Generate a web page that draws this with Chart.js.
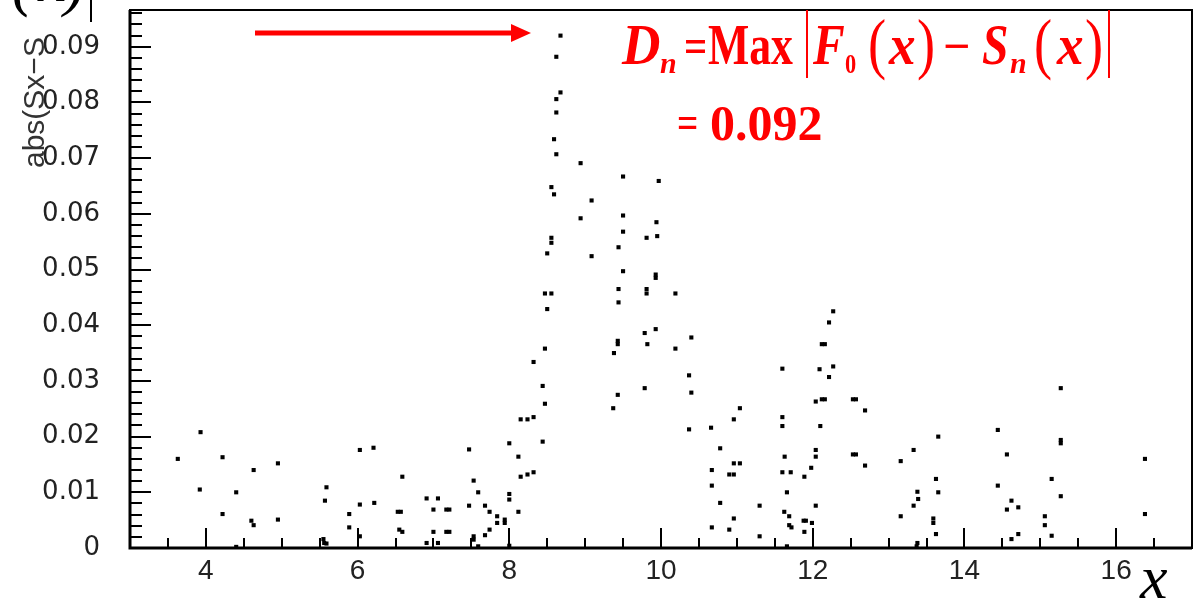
<!DOCTYPE html>
<html>
<head>
<meta charset="utf-8">
<script src="https://cdn.jsdelivr.net/npm/chart.js@4.4.0/dist/chart.umd.min.js"></script>
<style>
  html, body { margin: 0; padding: 0; background: #fff; }
  #wrap { width: 1199px; height: 610px; }
</style>
</head>
<body>
<div id="wrap"><canvas id="ksChart" width="1199" height="610"></canvas></div>
<script>
// tick labels
const xTicks = [4, 6, 8, 10, 12, 14, 16];
const yTicks = [0, 0.01, 0.02, 0.03, 0.04, 0.05, 0.06, 0.07, 0.08, 0.09];

// |F0(x) - Sn(x)| sampled at each observation
const xs = [
  3.63, 3.93, 3.92, 4.22, 4.22, 4.40, 4.40, 4.63, 4.60, 4.63, 4.95, 4.95,
  5.59, 5.57, 5.55, 5.56, 5.59, 5.89, 5.89, 6.03, 6.03, 6.03, 6.21, 6.22,
  6.59, 6.53, 6.57, 6.55, 6.59, 6.91, 7.06, 7.00, 7.17, 7.21, 7.00, 7.17,
  7.21, 6.91, 7.06, 7.47, 7.47, 7.53, 7.53, 7.53, 7.59, 7.59, 7.68, 7.68,
  7.74, 7.74, 7.84, 7.84, 7.94, 7.94, 8.00, 8.00, 8.00, 8.00, 8.12, 8.12,
  8.15, 8.15, 8.24, 8.24, 8.32, 8.32, 8.32, 8.44, 8.44, 8.47, 8.47, 8.47,
  8.50, 8.50, 8.555, 8.555, 8.555, 8.555, 8.59, 8.59, 8.62, 8.62, 8.62, 8.62,
  8.675, 8.675, 8.94, 8.94, 9.085, 9.085, 9.37, 9.38, 9.43, 9.43, 9.43, 9.44,
  9.44, 9.44, 9.50, 9.50, 9.50, 9.50, 9.785, 9.785, 9.81, 9.81, 9.81, 9.82,
  9.93, 9.93, 9.93, 9.94, 9.95, 9.97, 10.19, 10.19, 10.37, 10.37, 10.40, 10.40,
  10.66, 10.67, 10.67, 10.67, 10.78, 10.78, 10.90, 10.90, 10.96, 10.96, 10.96, 10.96,
  11.04, 11.04, 11.30, 11.30, 11.60, 11.60, 11.60, 11.60, 11.63, 11.625, 11.66, 11.66,
  11.69, 11.69, 11.71, 11.72, 11.88, 11.91, 11.89, 11.89, 11.98, 11.99, 12.04, 12.04,
  12.04, 12.04, 12.09, 12.10, 12.12, 12.16, 12.12, 12.16, 12.215, 12.215, 12.27, 12.27,
  12.53, 12.57, 12.53, 12.57, 12.69, 12.69, 13.16, 13.16, 13.33, 13.33, 13.38, 13.39,
  13.38, 13.37, 13.59, 13.59, 13.625, 13.625, 13.655, 13.655, 14.44, 14.44, 14.56, 14.56,
  14.62, 14.62, 14.71, 14.71, 15.06, 15.06, 15.15, 15.15, 15.27, 15.27, 15.27, 15.27,
  16.38, 16.38
];
const ys = [
  0.0160, 0.0208, 0.0105, 0.0163, 0.0061, 0.0100, 0.0002, 0.0140, 0.0049, 0.0041, 0.0152, 0.0051,
  0.0109, 0.0085, 0.0016, 0.0009, 0.0008, 0.0061, 0.0037, 0.0176, 0.0078, 0.0021, 0.0180, 0.0081,
  0.0128, 0.0065, 0.0065, 0.0033, 0.0029, 0.0089, 0.0089, 0.0069, 0.0069, 0.0069, 0.0029, 0.0029,
  0.0029, 0.0009, 0.0009, 0.0177, 0.0076, 0.0121, 0.0021, 0.0015, 0.0100, 0.0003, 0.0076, 0.0023,
  0.0065, 0.0033, 0.0057, 0.0045, 0.0051, 0.0045, 0.0188, 0.0097, 0.0087, 0.0004, 0.0164, 0.0065,
  0.0231, 0.0128, 0.0231, 0.0132, 0.0235, 0.0136, 0.0334, 0.0291, 0.0191, 0.0259, 0.0358, 0.0457,
  0.0429, 0.0529, 0.0457, 0.0557, 0.0548, 0.0648, 0.0635, 0.0734, 0.0707, 0.0782, 0.0806, 0.0882,
  0.0818, 0.0920, 0.0691, 0.0592, 0.0624, 0.0524, 0.0251, 0.0350, 0.0275, 0.0372, 0.0366, 0.0441,
  0.0465, 0.0540, 0.0497, 0.0568, 0.0597, 0.0667, 0.0386, 0.0287, 0.0557, 0.0465, 0.0457, 0.0366,
  0.0393, 0.0491, 0.0485, 0.0585, 0.0560, 0.0659, 0.0457, 0.0358, 0.0310, 0.0213, 0.0378, 0.0279,
  0.0216, 0.0140, 0.0112, 0.0037, 0.0179, 0.0081, 0.0132, 0.0033, 0.0231, 0.0152, 0.0132, 0.0053,
  0.0251, 0.0152, 0.0076, 0.0021, 0.0322, 0.0235, 0.0219, 0.0136, 0.0164, 0.0065, 0.0100, 0.0003,
  0.0057, 0.0041, 0.0136, 0.0037, 0.0049, 0.0049, 0.0128, 0.0029, 0.0144, 0.0045, 0.0263, 0.0176,
  0.0164, 0.0076, 0.0321, 0.0219, 0.0366, 0.0366, 0.0267, 0.0267, 0.0405, 0.0307, 0.0425, 0.0326,
  0.0267, 0.0267, 0.0168, 0.0168, 0.0247, 0.0148, 0.0156, 0.0057, 0.0176, 0.0076, 0.0101, 0.0088,
  0.0009, 0.0003, 0.0053, 0.0045, 0.0124, 0.0025, 0.0200, 0.0100, 0.0212, 0.0112, 0.0168, 0.0069,
  0.0085, 0.0016, 0.0073, 0.0025, 0.0057, 0.0041, 0.0124, 0.0022, 0.0287, 0.0194, 0.0188, 0.0093,
  0.0160, 0.0061
];

const dMax = 0.092;

function txt(ctx, s, x, y, font, sx = 1) {
  ctx.save();
  ctx.font = font;
  ctx.translate(x, y);
  ctx.scale(sx, 1);
  ctx.fillText(s, 0, 0);
  ctx.restore();
}

// ROOT-style frame with inward ticks
const frameTicks = {
  id: 'frameTicks',
  afterDatasetsDraw(chart) {
    const { ctx, chartArea: a, scales: { x, y } } = chart;
    ctx.save();
    ctx.strokeStyle = '#000';
    ctx.lineWidth = 2;
    ctx.beginPath();
    for (let i = 0; i <= 28; i++) {
      const v = 3 + i * 0.5;
      const px = Math.round(x.getPixelForValue(v));
      const len = (i % 4 === 2) ? 20 : 10;
      ctx.moveTo(px, a.bottom);
      ctx.lineTo(px, a.bottom - len);
    }
    for (let i = 0; i <= 48; i++) {
      const py = Math.round(y.getPixelForValue(i * 0.002));
      if (py < a.top) break;
      const len = (i % 5 === 0) ? 21 : 12;
      ctx.moveTo(a.left, py);
      ctx.lineTo(a.left + len, py);
    }
    ctx.stroke();
    ctx.lineWidth = 2;
    ctx.strokeRect(a.left, a.top, a.right - a.left, a.bottom - a.top);
    ctx.lineWidth = 3;
    ctx.beginPath();
    ctx.moveTo(a.left, a.top);
    ctx.lineTo(a.left, a.bottom);
    ctx.lineTo(a.right, a.bottom);
    ctx.stroke();
    ctx.restore();
  }
};

// axis titles, arrow and the D_n formula
const notes = {
  id: 'notes',
  afterDraw(chart) {
    const { ctx } = chart;
    ctx.save();
    ctx.textBaseline = 'alphabetic';
    ctx.textAlign = 'left';

    // y title
    ctx.fillStyle = '#333';
    ctx.save();
    ctx.translate(44, 168);
    ctx.rotate(-Math.PI / 2);
    ctx.font = '30px "Liberation Sans", Arial, sans-serif';
    ctx.fillText('abs(Sx\u2212S', 0, 0);
    ctx.restore();

    // clipped heading piece above the y title
    ctx.fillStyle = '#000';
    const hd = 'italic 64px "Liberation Serif", serif';
    txt(ctx, '(', 12, 4, hd);
    txt(ctx, 'x', 38, 1, hd);
    txt(ctx, ')', 64, 4, hd);
    ctx.strokeStyle = '#000';
    ctx.lineWidth = 2;
    ctx.beginPath();
    ctx.moveTo(91, 0);
    ctx.lineTo(91, 22);
    ctx.stroke();

    // x title
    txt(ctx, 'x', 1140, 598, 'italic 62px "Liberation Serif", serif');

    // arrow pointing at the maximum
    ctx.fillStyle = '#ff0000';
    ctx.strokeStyle = '#ff0000';
    ctx.lineWidth = 5;
    ctx.beginPath();
    ctx.moveTo(255, 33);
    ctx.lineTo(514, 33);
    ctx.stroke();
    ctx.beginPath();
    ctx.moveTo(531, 33);
    ctx.lineTo(511, 24);
    ctx.lineTo(511, 42);
    ctx.closePath();
    ctx.fill();

    // D_n = Max|F0(x) - Sn(x)|
    const bi = 'italic bold 56px "Liberation Serif", serif';
    const b = 'bold 56px "Liberation Serif", serif';
    const sub = 'italic bold 30px "Liberation Serif", serif';
    const par = '68px "Liberation Serif", serif';
    txt(ctx, 'D', 622, 64, bi, 0.95);
    txt(ctx, 'n', 660, 73, sub);
    txt(ctx, '=', 684, 62, 'bold 48px "Liberation Serif", serif', 0.85);
    txt(ctx, 'Max', 708, 64, b, 0.78);
    txt(ctx, 'F', 813, 64, bi, 0.85);
    txt(ctx, '0', 845, 73, 'bold 28px "Liberation Serif", serif', 0.8);
    txt(ctx, '(', 868, 66, par, 0.8);
    txt(ctx, 'x', 889, 64, bi, 0.95);
    txt(ctx, ')', 917, 66, par, 0.8);
    txt(ctx, '\u2212', 943, 62, 'bold 48px "Liberation Serif", serif');
    txt(ctx, 'S', 982, 64, bi, 0.85);
    txt(ctx, 'n', 1010, 73, sub);
    txt(ctx, '(', 1034, 66, par, 0.8);
    txt(ctx, 'x', 1057, 64, bi, 0.95);
    txt(ctx, ')', 1085, 66, par, 0.8);
    ctx.lineWidth = 2;
    ctx.beginPath();
    ctx.moveTo(807, 10); ctx.lineTo(807, 78);
    ctx.moveTo(1109, 10); ctx.lineTo(1109, 78);
    ctx.stroke();

    txt(ctx, '=', 677, 137, 'bold 44px "Liberation Serif", serif', 0.85);
    txt(ctx, dMax.toFixed(3), 710, 140, 'bold 50px "Liberation Serif", serif');
    ctx.restore();
  }
};

new Chart(document.getElementById('ksChart'), {
  type: 'scatter',
  data: {
    datasets: [{
      data: xs.map((x, i) => ({ x, y: ys[i] })),
      pointStyle: 'rect',
      pointRadius: 2.9,
      pointHoverRadius: 2.9,
      backgroundColor: '#000',
      borderWidth: 0
    }]
  },
  options: {
    responsive: false,
    animation: false,
    events: [],
    layout: { padding: { top: 10, right: 7, left: 0, bottom: 0 } },
    plugins: { legend: { display: false }, tooltip: { enabled: false } },
    scales: {
      x: {
        type: 'linear',
        min: 3,
        max: 17,
        grid: { display: false, drawTicks: false },
        border: { display: false },
        afterBuildTicks: s => { s.ticks = xTicks.map(v => ({ value: v })); },
        afterFit: s => { s.height = 62; s.paddingLeft = 0; s.paddingRight = 0; },
        ticks: {
          padding: 6,
          color: '#222',
          font: { family: '"Liberation Sans Narrow", "Liberation Sans", Arial, sans-serif', size: 28 },
          maxRotation: 0
        }
      },
      y: {
        type: 'linear',
        min: 0,
        max: 0.0966,
        grid: { display: false, drawTicks: false },
        border: { display: false },
        afterBuildTicks: s => { s.ticks = yTicks.map(v => ({ value: v })); },
        afterFit: s => { s.width = 130; s.paddingTop = 0; s.paddingBottom = 0; },
        ticks: {
          padding: 30,
          color: '#222',
          font: { family: '"DejaVu Sans", sans-serif', size: 26 },
          callback: v => (v === 0 ? '0' : v.toFixed(2))
        }
      }
    }
  },
  plugins: [frameTicks, notes]
});
</script>
</body>
</html>
